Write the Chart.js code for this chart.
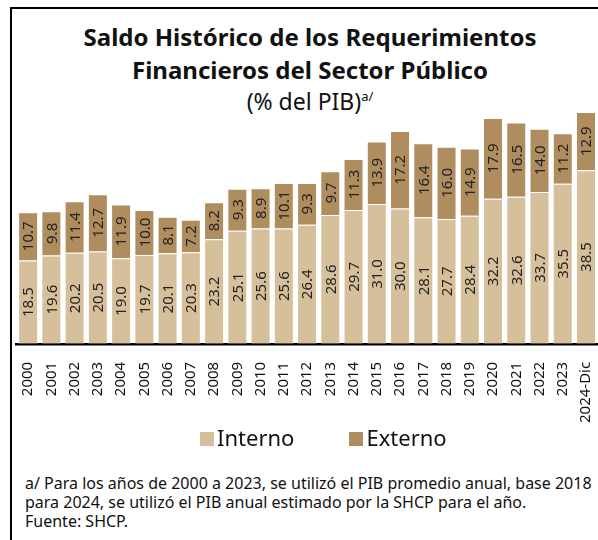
<!DOCTYPE html>
<html>
<head>
<meta charset="utf-8">
<script src="https://cdn.jsdelivr.net/npm/chart.js@4.4.1/dist/chart.umd.min.js"></script>
<style>
  html, body { margin: 0; padding: 0; background: #fff; width: 598px; height: 540px; overflow: hidden; }
  body { position: relative; font-family: "Noto Sans", sans-serif; color: #111; }
  #frame { position: absolute; left: 10px; top: 7px; width: 600px; height: 560px;
           border-left: 2px solid #000; border-top: 2px solid #000; }
  .tl { position: absolute; left: 22px; width: 576px; text-align: center; white-space: nowrap; }
  #t1, #t2 { font-weight: bold; font-size: 24px; line-height: 30px; }
  #t1 { top: 22px; }
  #t2 { top: 55px; }
  #t3 { top: 86px; font-size: 23px; line-height: 30px; }
  #t3 sup { font-size: 13px; vertical-align: 9px; line-height: 0; }
  #wrap { position: absolute; left: 0; top: 100px; width: 614px; height: 333px; }
  #legend { position: absolute; left: 200px; top: 423px; display: flex; align-items: center;
            font-size: 22px; line-height: 28px; }
  #legend .item { display: flex; align-items: center; margin-right: 55px; }
  #legend .box { width: 14px; height: 14px; margin-right: 3px; margin-top: 3px; }
  #note { position: absolute; left: 25px; top: 474px; font-size: 16px; line-height: 19px; white-space: nowrap; }
</style>
</head>
<body>
<div id="frame"></div>
<div class="tl" id="t1">Saldo Histórico de los Requerimientos</div>
<div class="tl" id="t2">Financieros del Sector Público</div>
<div class="tl" id="t3">(% del PIB)<sup>a/</sup></div>
<div id="wrap"><canvas id="chart"></canvas></div>
<div id="legend"></div>
<div id="note">
  a/ Para los años de 2000 a 2023, se utilizó el PIB promedio anual, base 2018<br>
  para 2024, se utilizó el PIB anual estimado por la SHCP para el año.<br>
  Fuente: SHCP.
</div>

<script>
var years = ['2000', '2001', '2002', '2003', '2004', '2005', '2006', '2007', '2008', '2009',
  '2010', '2011', '2012', '2013', '2014', '2015', '2016', '2017', '2018', '2019',
  '2020', '2021', '2022', '2023', '2024-Dic'];
var interno = [18.5, 19.6, 20.2, 20.5, 19.0, 19.7, 20.1, 20.3, 23.2, 25.1,
  25.6, 25.6, 26.4, 28.6, 29.7, 31.0, 30.0, 28.1, 27.7, 28.4,
  32.2, 32.6, 33.7, 35.5, 38.5];
var externo = [10.7, 9.8, 11.4, 12.7, 11.9, 10.0, 8.1, 7.2, 8.2, 9.3,
  8.9, 10.1, 9.3, 9.7, 11.3, 13.9, 17.2, 16.4, 16.0, 14.9,
  17.9, 16.5, 14.0, 11.2, 12.9];

// etiquetas verticales dentro de cada barra
var barLabels = {
  id: 'barLabels',
  afterDatasetsDraw: function(chart) {
    var ctx = chart.ctx;
    ctx.save();
    ctx.font = '15px "Noto Sans"';
    ctx.fillStyle = '#222';
    ctx.textAlign = 'center';
    ctx.textBaseline = 'middle';
    chart.data.datasets.forEach(function(ds, i) {
      var meta = chart.getDatasetMeta(i);
      meta.data.forEach(function(bar, j) {
        var y = (bar.y + bar.base) / 2;
        ctx.save();
        ctx.translate(bar.x, y);
        ctx.rotate(-Math.PI / 2);
        ctx.fillText(ds.data[j].toFixed(1), 0, 1);
        ctx.restore();
      });
    });
    ctx.restore();
  }
};

var ctx = document.getElementById('chart');
var myChart = new Chart(ctx, {
  type: 'bar',
  data: {
    labels: years,
    datasets: [{
      label: 'Interno',
      data: interno,
      backgroundColor: '#D5C09B',
      borderColor: 'rgba(255,255,255,0.35)',
      borderWidth: 1,
      categoryPercentage: 0.86,
      barPercentage: 1
    }, {
      label: 'Externo',
      data: externo,
      backgroundColor: '#B08D5E',
      borderColor: 'rgba(255,255,255,0.35)',
      borderWidth: 1,
      categoryPercentage: 0.86,
      barPercentage: 1
    }]
  },
  options: {
    responsive: true,
    maintainAspectRatio: false,
    animation: false,
    layout: { padding: { left: 16.5, right: 0, top: 9.4, bottom: 0 } },
    scales: {
      x: {
        stacked: true,
        grid: { display: false },
        border: { display: true, color: '#000', width: 2.5 },
        ticks: {
          color: '#111',
          font: { family: 'Noto Sans', size: 15 },
          minRotation: 90,
          maxRotation: 90,
          autoSkip: false,
          padding: 10
        }
      },
      y: {
        stacked: true,
        display: false,
        min: 0,
        max: 52
      }
    },
    plugins: {
      legend: { display: false },
      tooltip: { enabled: false }
    }
  },
  plugins: [barLabels]
});

// leyenda
$legend = document.getElementById('legend');
myChart.data.datasets.forEach(function(ds) {
  var item = document.createElement('div');
  item.className = 'item';
  var box = document.createElement('span');
  box.className = 'box';
  box.style.background = ds.backgroundColor;
  var txt = document.createElement('span');
  txt.textContent = ds.label;
  item.appendChild(box);
  item.appendChild(txt);
  $legend.appendChild(item);
});
</script>
</body>
</html>
